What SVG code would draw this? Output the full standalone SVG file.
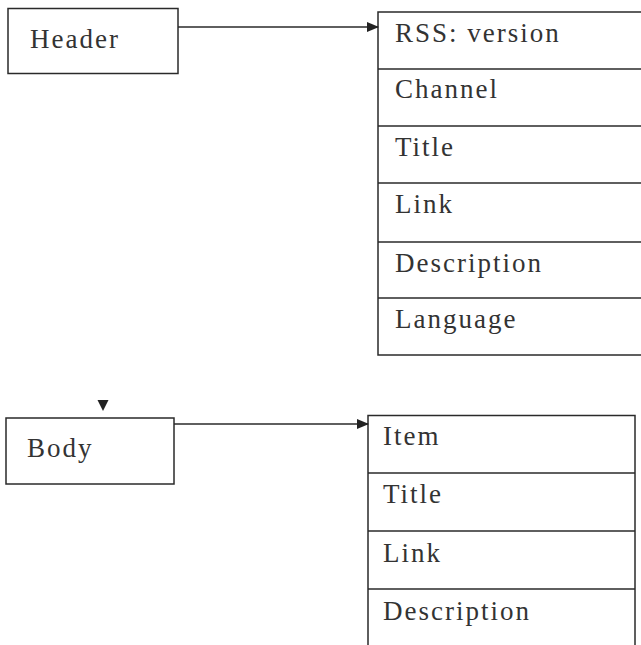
<svg xmlns="http://www.w3.org/2000/svg" width="641" height="645" viewBox="0 0 641 645">
<defs>
<style>
.box{fill:none;stroke:#2a2a2a;stroke-width:1.5}
.sep{stroke:#2a2a2a;stroke-width:1.5}
.t{font-family:"Liberation Serif","Times New Roman",serif;font-size:27px;fill:#333;letter-spacing:2px}
.conn{stroke:#2a2a2a;stroke-width:1.5;fill:none}
</style>
<marker id="ah" markerWidth="12" markerHeight="10" refX="11" refY="5" orient="auto" markerUnits="userSpaceOnUse">
<path d="M0,0 L12,5 L0,10 Z" fill="#222"/>
</marker>
</defs>
<rect width="641" height="645" fill="#fff"/>
<g id="header">
<rect class="box" x="8" y="8.5" width="170" height="65"/>
<text class="t" x="30" y="48">Header</text>
</g>
<g id="header-table">
<rect class="box" x="378" y="12" width="270" height="343"/>
<line class="sep" x1="378" y1="69" x2="641" y2="69"/>
<line class="sep" x1="378" y1="126" x2="641" y2="126"/>
<line class="sep" x1="378" y1="183" x2="641" y2="183"/>
<line class="sep" x1="378" y1="242" x2="641" y2="242"/>
<line class="sep" x1="378" y1="298" x2="641" y2="298"/>
<text class="t" x="395" y="42">RSS: version</text>
<text class="t" x="395" y="98">Channel</text>
<text class="t" x="395" y="156">Title</text>
<text class="t" x="395" y="213">Link</text>
<text class="t" x="395" y="272">Description</text>
<text class="t" x="395" y="328">Language</text>
</g>
<g id="body">
<rect class="box" x="6" y="418" width="168" height="66"/>
<text class="t" x="27" y="457">Body</text>
</g>
<g id="body-table">
<rect class="box" x="368" y="415.5" width="267" height="240"/>
<line class="sep" x1="368" y1="473" x2="635" y2="473"/>
<line class="sep" x1="368" y1="531" x2="635" y2="531"/>
<line class="sep" x1="368" y1="589" x2="635" y2="589"/>
<text class="t" x="383" y="445">Item</text>
<text class="t" x="383" y="503">Title</text>
<text class="t" x="383" y="562">Link</text>
<text class="t" x="383" y="620">Description</text>
</g>
<g id="connectors">
<path class="conn" d="M178,27 H378" marker-end="url(#ah)"/>
<path class="conn" d="M174,424 H368" marker-end="url(#ah)"/>
<path d="M97.5,400 L108.5,400 L103,411 Z" fill="#222"/>
</g>
</svg>
